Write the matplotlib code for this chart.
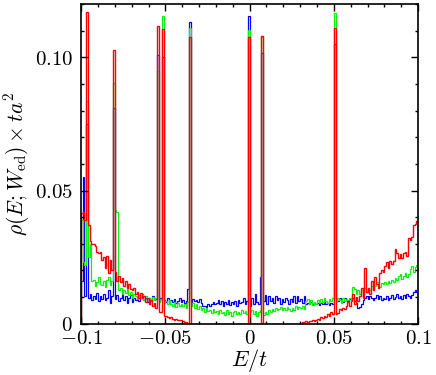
import numpy as np
import matplotlib
matplotlib.use("Agg")
from matplotlib import pyplot as plt
from matplotlib.ticker import MultipleLocator, FixedLocator, FixedFormatter

plt.rcParams['mathtext.fontset'] = 'cm'
plt.rcParams['font.family'] = 'serif'
plt.rcParams['font.serif'] = ['DejaVu Serif']

# histogram bins: 200 bins between E/t = -0.1 and 0.1
e_min, e_max, n_bins = -0.1, 0.1, 200

blue = [
    0.016, 0.055, 0.0105, 0.075, 0.0095, 0.0112, 0.0088, 0.0105, 0.0092, 0.0115,
    0.0085, 0.0102, 0.0092, 0.011, 0.0088, 0.0098, 0.0125, 0.0078, 0.0105, 0.0811,
    0.0092, 0.0108, 0.0085, 0.0098, 0.0112, 0.0088, 0.0102, 0.0078, 0.0095, 0.0108,
    0.0082, 0.0098, 0.009, 0.0105, 0.0085, 0.0095, 0.0112, 0.0088, 0.0098, 0.0082,
    0.0095, 0.0085, 0.0102, 0.0088, 0.0092, 0.101, 0.0085, 0.0098, 0.100, 0.0088,
    0.0082, 0.0095, 0.0078, 0.0088, 0.0082, 0.0092, 0.0078, 0.0085, 0.0095, 0.008,
    0.0088, 0.0078, 0.0085, 0.0129, 0.1132, 0.0082, 0.0092, 0.0085, 0.009, 0.0082,
    0.0092, 0.0078, 0.0066, 0.0068, 0.0064, 0.0072, 0.0068, 0.0075, 0.0082, 0.0072,
    0.0078, 0.0088, 0.0072, 0.0085, 0.0068, 0.008, 0.0074, 0.0088, 0.007, 0.0082,
    0.0075, 0.0086, 0.0068, 0.0088, 0.0076, 0.0082, 0.0095, 0.0072, 0.0086, 0.1157,
    0.0068, 0.0098, 0.0075, 0.011, 0.0082, 0.0072, 0.0174, 0.1018, 0.0085, 0.0108,
    0.0072, 0.0102, 0.0085, 0.0098, 0.0078, 0.0105, 0.0088, 0.0095, 0.0075, 0.0092,
    0.0082, 0.0098, 0.0088, 0.0075, 0.0092, 0.0082, 0.0102, 0.0078, 0.0105, 0.0085,
    0.0092, 0.0078, 0.0105, 0.0072, 0.0078, 0.0072, 0.0082, 0.0075, 0.0078, 0.0072,
    0.0076, 0.007, 0.0078, 0.0074, 0.0082, 0.0072, 0.0078, 0.007, 0.0076, 0.0072,
    0.105, 0.0092, 0.0085, 0.0098, 0.0088, 0.0082, 0.0095, 0.009, 0.0085, 0.0092,
    0.0088, 0.0095, 0.0085, 0.0078, 0.006, 0.0062, 0.0075, 0.0088, 0.0095, 0.0102,
    0.0092, 0.0105, 0.0095, 0.0088, 0.0098, 0.0108, 0.0092, 0.0102, 0.0088, 0.0098,
    0.0092, 0.0105, 0.0088, 0.0098, 0.0108, 0.0092, 0.01, 0.0112, 0.0095, 0.0105,
    0.0092, 0.0108, 0.0098, 0.0112, 0.0102, 0.0095, 0.0108, 0.0118, 0.0125, 0.0118,
]

green = [
    0.039, 0.023, 0.022, 0.0838, 0.025, 0.030, 0.016, 0.0165, 0.014, 0.0155,
    0.0175, 0.015, 0.0145, 0.016, 0.0138, 0.0165, 0.0175, 0.0145, 0.016, 0.0905,
    0.0427, 0.042, 0.0125, 0.0135, 0.011, 0.0128, 0.0115, 0.013, 0.0108, 0.012,
    0.0098, 0.0112, 0.0105, 0.0092, 0.0108, 0.0095, 0.011, 0.0088, 0.0102, 0.0092,
    0.0098, 0.0085, 0.010, 0.0088, 0.0095, 0.095, 0.0082, 0.0092, 0.1157, 0.0078,
    0.0085, 0.0072, 0.0088, 0.0075, 0.0068, 0.0082, 0.0062, 0.0078, 0.0065, 0.0072,
    0.0068, 0.0075, 0.006, 0.0082, 0.1111, 0.0065, 0.0078, 0.006, 0.0072, 0.0055,
    0.0068, 0.005, 0.0058, 0.0045, 0.006, 0.0048, 0.0052, 0.004, 0.0055, 0.0042,
    0.0048, 0.0035, 0.0052, 0.004, 0.0045, 0.0032, 0.005, 0.0038, 0.0045, 0.003,
    0.0042, 0.0048, 0.0035, 0.0045, 0.0038, 0.005, 0.004, 0.0046, 0.0036, 0.1101,
    0.0042, 0.005, 0.0035, 0.0048, 0.003, 0.0045, 0.0052, 0.1082, 0.0032, 0.0045,
    0.0038, 0.005, 0.0042, 0.0055, 0.0048, 0.0058, 0.005, 0.0056, 0.0062, 0.0052,
    0.0058, 0.0052, 0.0062, 0.0055, 0.0048, 0.006, 0.0052, 0.0065, 0.0055, 0.0062,
    0.0058, 0.0066, 0.0056, 0.0085, 0.0092, 0.0075, 0.0088, 0.007, 0.0082, 0.0075,
    0.0088, 0.0078, 0.0092, 0.0082, 0.0095, 0.0085, 0.0078, 0.0092, 0.0085, 0.0098,
    0.1167, 0.0082, 0.0095, 0.0088, 0.0078, 0.0098, 0.0085, 0.0092, 0.009, 0.0095,
    0.0085, 0.0136, 0.013, 0.0112, 0.0125, 0.011, 0.0128, 0.0118, 0.0132, 0.012,
    0.0135, 0.0128, 0.0142, 0.0155, 0.014, 0.0158, 0.0145, 0.0138, 0.0152, 0.0148,
    0.0158, 0.0148, 0.016, 0.0152, 0.0165, 0.0158, 0.0172, 0.0162, 0.0178, 0.0185,
    0.0168, 0.018, 0.0192, 0.0175, 0.0188, 0.0205, 0.0218, 0.0195, 0.0212, 0.022,
]

red = [
    0.0416, 0.042, 0.039, 0.1172, 0.037, 0.031, 0.030, 0.030, 0.029, 0.027,
    0.0265, 0.027, 0.024, 0.025, 0.021, 0.0255, 0.019, 0.024, 0.020, 0.1029,
    0.0195, 0.016, 0.018, 0.0155, 0.017, 0.014, 0.016, 0.0135, 0.015, 0.013,
    0.0125, 0.0135, 0.011, 0.012, 0.0098, 0.0115, 0.0095, 0.0105, 0.008, 0.0095,
    0.0075, 0.0088, 0.0065, 0.0078, 0.0058, 0.1118, 0.0045, 0.0043, 0.1105, 0.003,
    0.0028, 0.0025, 0.0022, 0.0024, 0.0018, 0.0015, 0.0018, 0.0013, 0.0015, 0.0012,
    0.001, 0.0005, 0.0005, 0.0, 0.1076, 0.0, 0.0, 0.0, 0.0, 0.0,
    0.0, 0.0, 0.0, 0.0, 0.0, 0.0, 0.0, 0.0, 0.0, 0.0,
    0.0, 0.0, 0.0, 0.0, 0.0, 0.0, 0.0, 0.0, 0.0, 0.0,
    0.0, 0.0, 0.0, 0.0, 0.0, 0.0, 0.0, 0.0, 0.0, 0.1076,
    0.0, 0.0, 0.0, 0.0, 0.0, 0.0, 0.0, 0.1079, 0.0, 0.0,
    0.0, 0.0, 0.0, 0.0, 0.0, 0.0, 0.0, 0.0, 0.0, 0.0,
    0.0, 0.0, 0.0, 0.0, 0.0, 0.0, 0.0, 0.0, 0.0, 0.0,
    0.0, 0.0005, 0.0005, 0.0008, 0.0005, 0.001, 0.0008, 0.0012, 0.001, 0.0015,
    0.0018, 0.0013, 0.0025, 0.002, 0.0028, 0.0025, 0.0035, 0.003, 0.0042, 0.0038,
    0.111, 0.0035, 0.004, 0.0055, 0.005, 0.006, 0.0055, 0.0065, 0.008, 0.0065,
    0.0085, 0.011, 0.0075, 0.010, 0.0085, 0.0105, 0.0135, 0.0095, 0.021, 0.012,
    0.0135, 0.011, 0.016, 0.0125, 0.0175, 0.015, 0.0135, 0.019, 0.020, 0.0195,
    0.0215, 0.023, 0.021, 0.0235, 0.0225, 0.0235, 0.028, 0.0265, 0.0245, 0.026,
    0.0245, 0.0265, 0.027, 0.0255, 0.032, 0.0315, 0.0325, 0.037, 0.0375, 0.0386,
]

x_ticks = [-0.1, -0.05, 0, 0.05, 0.1]
x_labels = ['$-0.1$', '$-0.05$', '$0$', '$0.05$', '$0.1$']
y_ticks = [0, 0.05, 0.10]
y_labels = ['$0$', '$0.05$', '$0.10$']

edges = np.linspace(e_min, e_max, n_bins + 1)

fig = plt.figure(figsize=(4.36, 3.75), dpi=100)
ax = fig.add_axes([0.186, 0.137, 0.773, 0.852])

ax.stairs(blue, edges, color='#0000ff', linewidth=0.9)
ax.stairs(green, edges, color='#11ee11', linewidth=0.9)
ax.stairs(red, edges, color='#ff0000', linewidth=1.0)

ax.set_xlim(e_min, e_max)
ax.set_ylim(0, 0.12)

ax.xaxis.set_major_locator(FixedLocator(x_ticks))
ax.xaxis.set_major_formatter(FixedFormatter(x_labels))
ax.yaxis.set_major_locator(FixedLocator(y_ticks))
ax.yaxis.set_major_formatter(FixedFormatter(y_labels))
ax.xaxis.set_minor_locator(MultipleLocator(0.01))
ax.yaxis.set_minor_locator(MultipleLocator(0.01))
ax.tick_params(which='both', direction='in', top=True, right=True,
               width=1.0, labelsize=15, colors='black')
ax.tick_params(which='major', length=5)
ax.tick_params(axis='y', which='major', pad=6)
ax.tick_params(axis='x', which='major', pad=4)
ax.tick_params(which='minor', length=2.5)
for s in ax.spines.values():
    s.set_linewidth(1.2)

ax.set_xlabel(r'$E/t$', fontsize=16, labelpad=-1)
ax.set_ylabel(r'$\rho(E;W_{\rm ed})\times ta^2$', fontsize=15.5, labelpad=2)

fig.savefig('out.png', dpi=100)
